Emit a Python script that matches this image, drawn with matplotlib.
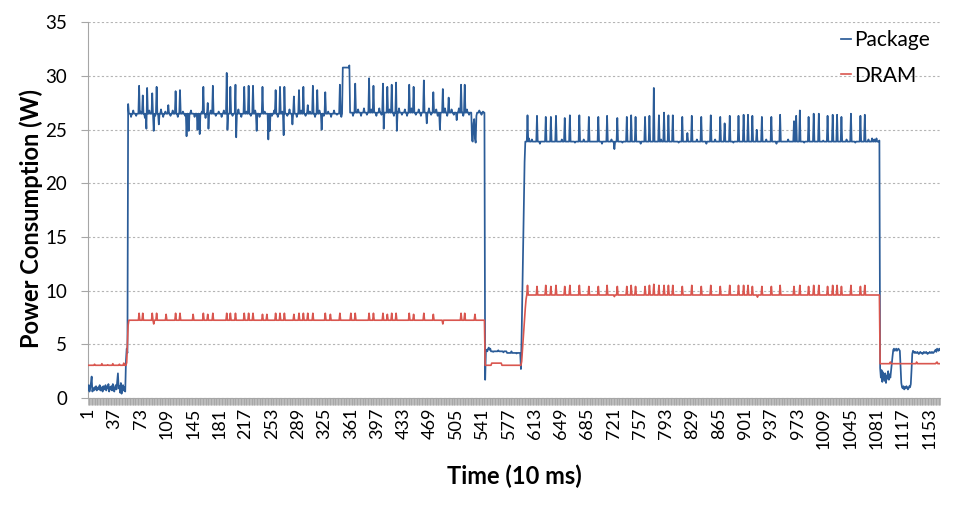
import numpy as np
import matplotlib
matplotlib.use("Agg")
import matplotlib.pyplot as plt

plt.rcParams["font.family"] = ["Lato", "DejaVu Sans"]

# ---------------- data ----------------
n_samples = 1168
x_tick_labels = [1, 37, 73, 109, 145, 181, 217, 253, 289, 325, 361, 397, 433,
                 469, 505, 541, 577, 613, 649, 685, 721, 757, 793, 829, 865,
                 901, 937, 973, 1009, 1045, 1081, 1117, 1153]
y_ticks = [0, 5, 10, 15, 20, 25, 30, 35]

# Package: idle start (samples 1..55)
pkg_head = [0.8, 1.2, 0.6, 0.9, 1.4, 2.0, 0.6, 0.9, 0.7, 1.0,
            0.8, 1.1, 0.7, 0.9, 1.0, 0.8, 1.2, 0.7, 0.9, 1.0,
            0.6, 1.1, 0.8, 0.9, 1.2, 0.7, 1.0, 0.9, 1.3, 0.6,
            1.0, 0.8, 1.1, 0.7, 1.3, 0.9, 0.6, 1.0, 1.2, 0.8,
            1.6, 2.3, 0.9, 1.1, 0.5, 1.4, 0.4, 1.0, 1.2, 0.7,
            1.0, 0.6, 3.5, 4.6, 4.2]
# Package: plateau levels (segment start sample, level) for samples 56..1085
pkg_seg_start = [56, 350, 360, 545, 575, 600]
pkg_seg_level = [26.5, 30.8, 26.6, 4.35, 4.2, 23.9]
# Package: idle end (samples 1086..1168)
pkg_tail = [2.8, 1.9, 2.6, 1.5, 2.4, 2.0, 1.6, 2.3, 1.4, 2.1, 1.8, 2.5, 1.7, 2.2, 1.9, 2.6, 3.2, 3.9,
            4.5, 4.6, 4.4, 4.5, 4.6, 4.4, 4.5, 4.6, 4.5, 4.4,
            3.0, 1.4, 1.0, 0.9, 1.1, 0.8, 1.0, 0.9, 1.1, 1.0, 0.8, 0.9, 1.1, 1.0, 1.3, 2.6,
            4.1, 4.4, 4.3, 4.2, 4.3, 4.2, 4.2, 4.3, 4.2, 4.1, 4.2, 4.3, 4.2, 4.2, 4.1, 4.2,
            4.3, 4.2, 4.2, 4.3, 4.2, 4.1, 4.2, 4.2, 4.3, 4.2, 4.2, 4.3, 4.2, 4.2, 4.3,
            4.4, 4.5, 4.3, 4.6, 4.5, 4.4, 4.6, 4.5]
# Package: spikes, dips and transitions
pkg_pt_idx = [56, 71, 76, 81, 82, 89, 91, 95, 98, 111, 121, 127, 136, 139, 151, 154,
              159, 165, 166, 172, 191, 192, 196, 203, 204, 215, 221, 227, 232, 240,
              248, 250, 258, 264, 269, 270, 281, 283, 290, 296, 302, 309, 315, 321,
              326, 346, 348, 359, 367, 386, 392, 405, 406, 411, 417, 423, 424, 441,
              447, 461, 465, 474, 483, 487, 495, 506, 512, 517,
              527, 528, 529, 530, 531, 532, 533,
              545, 549, 550, 551, 552, 594, 595, 596, 597, 598, 599,
              603, 616, 628, 635, 642, 654, 661, 674, 687, 700, 712, 722, 726, 739,
              745, 751, 764, 770, 776, 783, 790, 796, 802, 815, 822, 828, 841, 854,
              867, 873, 880, 892, 899, 905, 911, 917, 924, 937, 949, 968, 971, 976,
              988, 995, 1002, 1014, 1021, 1027, 1033, 1046, 1059, 1065, 1085]
pkg_pt_val = [27.4, 29.1, 28.2, 25.1, 28.9, 28.4, 24.9, 29.0, 25.5, 27.3, 28.6, 28.7, 24.4, 24.9, 25.0, 24.6,
              29.0, 27.5, 25.1, 29.1, 30.3, 25.0, 29.0, 29.2, 24.3, 29.0, 29.1, 29.1, 24.9, 29.0,
              24.1, 24.9, 28.7, 29.0, 24.5, 29.0, 25.5, 28.1, 28.7, 29.0, 27.3, 29.1, 28.7, 25.0,
              28.5, 29.2, 26.2, 31.0, 29.3, 29.8, 29.1, 29.3, 25.1, 29.0, 29.2, 29.4, 24.9, 29.2,
              29.0, 29.6, 25.6, 28.5, 25.0, 28.8, 28.0, 25.9, 29.2, 29.2,
              24.0, 23.9, 25.6, 26.0, 24.2, 23.8, 26.3,
              1.7, 4.6, 4.7, 4.5, 4.6, 2.7, 6.0, 10.0, 14.0, 18.0, 22.0,
              26.35, 26.3, 26.2, 26.2, 26.3, 26.1, 26.35, 26.35, 26.2, 26.2, 26.3, 23.2, 26.1, 26.2,
              26.35, 26.2, 26.2, 26.3, 28.9, 26.35, 26.6, 26.35, 26.35, 26.2, 24.7, 26.3, 26.2, 26.35,
              26.2, 25.6, 26.3, 26.3, 26.4, 26.4, 26.3, 25.0, 26.2, 26.2, 26.4, 25.8, 26.3, 26.8,
              26.2, 26.5, 26.5, 26.3, 26.4, 26.4, 26.2, 26.5, 26.3, 26.4, 24.0]
# Package: small wiggles of the plateau lines
pkg_wig_idx = [60, 63, 67, 73, 79, 85, 93, 101, 104, 107, 114, 117, 124, 131, 134, 142,
               147, 157, 162, 169, 176, 180, 184, 187, 199, 207, 211, 218, 224, 230, 236,
               243, 253, 256, 261, 267, 274, 277, 287, 293, 299, 305, 312, 318, 324, 330,
               334, 338, 342, 364, 371, 375, 379, 383, 389, 396, 400, 403, 414, 420, 427,
               431, 435, 438, 444, 450, 454, 457, 468, 471, 478, 480, 490, 493, 499, 502,
               509, 515, 520, 523, 537, 540, 542,
               547, 556, 563, 570, 581, 588,
               605, 609, 620, 650, 668, 680, 705, 718, 733, 758, 786, 810, 835, 848, 860,
               885, 930, 944, 960, 982, 1008, 1040, 1052, 1070, 1075, 1078, 1081]
pkg_wig_val = [26.2, 26.8, 26.3, 26.7, 26.1, 26.8, 26.3, 26.9, 26.2, 26.7, 26.3, 26.8, 26.2, 26.7, 26.3, 26.8,
               26.2, 26.7, 26.1, 26.8, 26.3, 26.7, 26.2, 26.8, 26.3, 26.9, 26.2, 26.7, 26.3, 26.8, 26.2,
               26.7, 26.3, 26.8, 26.2, 26.7, 26.3, 26.9, 26.2, 26.8, 26.3, 26.7, 26.2, 26.8, 26.3, 26.7,
               26.2, 26.8, 26.4, 26.3, 26.9, 26.3, 27.0, 26.4, 26.9, 26.3, 27.0, 26.4, 26.9, 26.3, 27.0,
               26.4, 26.9, 26.3, 27.0, 26.4, 26.9, 26.3, 27.0, 26.4, 26.9, 26.3, 27.0, 26.3, 26.9, 26.4,
               27.0, 26.3, 26.9, 26.4, 26.8, 26.4, 26.7,
               4.5, 4.3, 4.45, 4.25, 4.35, 4.15,
               24.2, 24.1, 23.7, 24.1, 23.8, 24.1, 23.7, 24.1, 23.8, 23.7, 24.1, 23.8, 24.1, 23.7, 24.1,
               23.8, 24.1, 23.7, 24.1, 23.8, 24.0, 24.1, 23.8, 24.1, 24.2, 24.1, 24.2]

# DRAM: plateau levels (segment start sample, level) for samples 1..1168
dram_seg_start = [1, 57, 545, 554, 568, 602, 1086]
dram_seg_level = [3.05, 7.25, 3.05, 3.25, 3.05, 9.6, 3.2]
# DRAM: spikes, dips and transitions
dram_pt_idx = [10, 20, 28, 35, 44, 50, 54, 55, 56,
               71, 76, 89, 91, 95, 108, 121, 127, 145, 159, 165, 172, 191, 196, 203, 215,
               221, 227, 240, 246, 258, 264, 270, 283, 290, 296, 302, 309, 326, 333, 346,
               361, 367, 386, 392, 405, 411, 417, 423, 441, 447, 461, 474, 487, 512, 517, 531,
               595, 596, 597, 598, 599, 600, 601,
               603, 616, 628, 635, 642, 654, 661, 674, 687, 700, 712, 722, 726, 739, 745,
               751, 764, 770, 776, 783, 790, 796, 802, 815, 828, 841, 854, 867, 880, 892,
               899, 905, 911, 918, 924, 937, 949, 968, 976, 988, 995, 1002, 1014, 1021, 1027,
               1033, 1046, 1059, 1065, 1100, 1136, 1163, 1164]
dram_pt_val = [3.15, 3.2, 3.1, 3.2, 3.15, 3.25, 3.3, 5.0, 6.8,
               7.9, 7.9, 7.9, 6.9, 7.9, 7.8, 7.9, 7.9, 7.8, 7.9, 7.8, 7.9, 7.9, 7.9, 7.9, 7.9,
               7.9, 7.9, 7.8, 7.8, 7.9, 7.9, 7.9, 7.8, 7.9, 7.9, 7.9, 7.9, 7.9, 7.8, 7.9,
               7.9, 7.9, 7.9, 7.9, 7.9, 7.8, 7.9, 7.9, 7.9, 7.8, 7.9, 7.8, 6.9, 7.9, 7.9, 7.8,
               3.4, 4.4, 5.4, 6.4, 7.4, 8.4, 9.2,
               10.5, 10.4, 10.5, 10.4, 10.5, 10.4, 10.5, 10.5, 10.4, 10.4, 10.5, 9.45, 10.4, 10.4, 10.5,
               10.4, 10.4, 10.5, 10.6, 10.5, 10.5, 10.5, 10.5, 10.4, 10.5, 10.4, 10.5, 10.4, 10.5, 10.5,
               10.5, 10.5, 10.4, 9.4, 10.4, 10.4, 10.5, 10.4, 10.5, 10.4, 10.5, 10.5, 10.4, 10.5, 10.5,
               10.4, 10.5, 10.4, 10.5, 3.35, 3.35, 3.3, 3.35]

# ---------------- build series ----------------
x = np.arange(1, n_samples + 1)

package = np.full(n_samples, np.nan)
package[:len(pkg_head)] = pkg_head
tail_start = n_samples - len(pkg_tail) + 1
bounds = pkg_seg_start + [tail_start]
for s, e, v in zip(bounds[:-1], bounds[1:], pkg_seg_level):
    package[s - 1:e - 1] = v
package[tail_start - 1:] = pkg_tail
for i, v in zip(pkg_wig_idx, pkg_wig_val):
    package[i - 1] = v
for i, v in zip(pkg_pt_idx, pkg_pt_val):
    package[i - 1] = v

dram = np.full(n_samples, np.nan)
bounds = dram_seg_start + [n_samples + 1]
for s, e, v in zip(bounds[:-1], bounds[1:], dram_seg_level):
    dram[s - 1:e - 1] = v
for i, v in zip(dram_pt_idx, dram_pt_val):
    dram[i - 1] = v

# ---------------- plot ----------------
fig = plt.figure(figsize=(9.68, 5.13), dpi=100)
W, H = 968, 513
left, right, top, bottom = 88, 940, 22.5, 398
ax = fig.add_axes([left / W, (H - bottom) / H, (right - left) / W, (bottom - top) / H])

ax.plot(x, package, color="#2b5c98", lw=1.25, label="Package", zorder=3)
ax.plot(x, dram, color="#d9564f", lw=1.2, label="DRAM", zorder=3)

ax.set_xlim(1, n_samples)
ax.set_ylim(0, 35)
ax.set_yticks(y_ticks)
ax.set_xticks(x_tick_labels)
ax.set_xticklabels([str(v) for v in x_tick_labels], rotation=90)
ax.set_xticks(x, minor=True)

ax.grid(axis="y", color="#b4b4b4", linestyle=(0, (2, 2)), lw=0.8)
ax.set_axisbelow(True)

for side in ("top", "right"):
    ax.spines[side].set_visible(False)
ax.spines["left"].set_color("#a6a6a6")
ax.spines["bottom"].set_color("#a6a6a6")
ax.spines["left"].set_linewidth(0.8)
ax.spines["bottom"].set_linewidth(0.8)

ax.tick_params(axis="x", which="both", direction="out", length=5, width=0.5,
               color="#a0a0a0", labelsize=13, pad=2)
ax.tick_params(axis="y", which="both", direction="out", length=5, width=0.8,
               color="#a6a6a6", labelsize=13.5, pad=10)

ax.set_ylabel("Power Consumption (W)", fontsize=17, fontweight="bold")
ax.yaxis.set_label_coords((43 - left) / (right - left), (bottom - 218) / (bottom - top))
ax.set_xlabel("Time (10 ms)", fontsize=17, fontweight="bold", labelpad=11)

leg = ax.legend(loc="upper left", bbox_to_anchor=(841 / W, 1 - 30 / H),
                bbox_transform=fig.transFigure, frameon=False, fontsize=15,
                handlelength=0.5, handletextpad=0.15, labelspacing=0.75,
                borderpad=0, borderaxespad=0)

fig.savefig("out.png", dpi=100)
